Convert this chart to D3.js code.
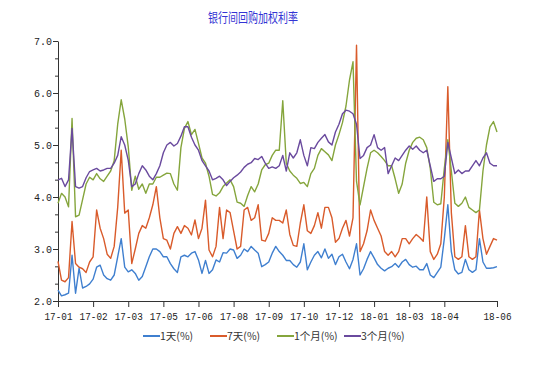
<!DOCTYPE html>
<html><head><meta charset="utf-8">
<script src="https://cdn.jsdelivr.net/npm/d3@7"></script>
<style>body{margin:0;background:#fff}</style>
</head><body>
<svg id="c" width="553" height="379"></svg>
<script>
const title = "银行间回购加权利率";
const seriesNames = ["1天(%)", "7天(%)", "1个月(%)", "3个月(%)"];
const seriesColors = ["#3f7fcf", "#d95b2b", "#85a53c", "#6a4a9e"];
const tickLabels = ["17-01","17-02","17-03","17-05","17-06","17-08","17-09","17-10","17-12","18-01","18-03","18-04","18-06"];
const tickIndex = [0,10,20,30,40,50,60,70,80,90,100,110,125];
const yTicks = [2,3,4,5,6,7];

const day1 = [2.21,2.1,2.12,2.15,2.88,2.15,2.63,2.25,2.28,2.33,2.42,2.65,2.69,2.5,2.43,2.4,2.5,2.85,3.2,2.65,2.56,2.6,2.53,2.4,2.47,2.66,2.85,3.0,3.0,2.95,2.85,2.85,
2.72,2.62,2.55,2.85,2.88,2.85,2.92,2.95,2.79,2.53,2.78,2.53,2.6,2.79,2.75,2.93,2.92,3.0,2.98,2.82,2.88,3.0,2.95,3.05,2.98,2.92,2.66,2.7,2.75,2.92,3.05,
2.95,2.88,2.78,2.78,2.7,2.65,2.75,3.1,2.6,2.75,2.88,2.95,2.83,3.0,2.82,2.9,2.7,2.85,2.9,2.75,2.62,2.8,3.1,2.5,2.62,2.8,2.95,2.83,2.7,2.63,2.58,2.63,
2.66,2.72,2.65,2.75,2.8,2.7,2.65,2.67,2.6,2.6,2.72,2.5,2.45,2.55,2.65,3.2,3.85,2.95,2.6,2.52,2.55,2.8,2.6,2.55,2.6,3.2,2.75,2.63,2.63,2.64,2.66];
const day7 = [2.76,2.4,2.37,2.45,3.53,2.72,2.65,2.62,2.55,2.75,2.85,3.75,3.4,3.2,2.9,2.82,3.05,3.8,4.9,3.69,3.75,2.72,3.0,3.3,3.45,3.4,3.6,3.85,4.2,3.6,3.2,3.17,
3.0,3.3,3.43,3.3,3.45,3.4,3.27,3.56,3.2,3.4,3.94,2.98,2.85,3.05,3.8,3.2,3.75,3.7,3.35,3.0,3.05,3.75,3.8,3.55,3.6,3.85,3.17,3.15,3.3,3.6,3.55,
3.55,3.5,3.75,3.28,3.07,3.05,3.5,3.85,3.35,3.3,3.45,3.7,3.4,3.8,3.8,3.6,3.13,3.2,3.4,3.55,3.25,3.6,6.92,2.95,3.1,3.35,3.75,3.55,3.4,3.25,2.95,2.88,
2.95,2.85,2.95,3.2,3.2,3.1,3.2,3.28,3.22,3.15,4.0,2.95,2.8,2.9,3.1,4.0,6.12,3.7,2.85,2.8,2.85,3.45,2.85,2.8,2.85,3.75,3.2,2.9,3.05,3.2,3.17];
const month1 = [3.88,4.07,4.0,3.81,5.51,3.62,3.65,3.95,4.25,4.38,4.33,4.45,4.35,4.3,4.4,4.5,4.7,5.4,5.87,5.5,4.97,4.13,4.4,4.15,4.25,4.07,4.25,4.25,4.38,4.38,4.42,4.46,
4.45,4.25,4.13,4.95,5.32,5.45,5.2,5.3,5.03,4.75,4.65,4.4,4.05,4.02,4.08,4.2,4.27,4.33,4.2,3.9,3.88,3.82,4.03,4.2,4.1,4.25,4.52,4.62,4.65,4.8,4.9,
4.9,5.85,4.65,4.5,4.42,4.36,4.26,4.28,4.2,4.45,4.55,4.8,4.93,4.87,4.81,4.7,5.0,5.2,5.43,5.75,6.25,6.6,4.3,3.85,4.2,4.55,4.85,4.9,4.85,4.78,4.7,4.6,
4.6,4.35,4.07,4.25,4.65,4.9,5.05,5.13,5.15,5.1,4.95,4.55,3.9,3.85,3.87,4.55,5.1,4.5,3.88,3.82,3.88,4.0,3.8,3.75,3.7,3.75,4.5,5.0,5.35,5.45,5.25];
const month3 = [4.33,4.36,4.2,4.33,5.32,4.2,4.17,4.2,4.37,4.49,4.52,4.55,4.5,4.52,4.55,4.55,4.65,4.8,5.16,5.0,4.71,4.2,4.25,4.45,4.6,4.52,4.4,4.33,4.45,4.6,4.85,5.0,
5.05,4.98,5.03,5.17,5.35,5.35,5.15,5.0,4.9,4.7,4.6,4.5,4.33,4.36,4.4,4.33,4.22,4.3,4.37,4.42,4.48,4.57,4.63,4.66,4.74,4.72,4.78,4.65,4.55,4.58,4.55,
4.6,4.8,4.5,4.85,4.75,4.85,5.1,4.8,4.6,4.95,4.93,5.05,5.13,5.2,5.06,5.0,5.25,5.4,5.6,5.67,5.65,5.6,5.4,4.74,4.8,4.95,5.0,5.2,4.95,4.9,4.95,4.45,
4.6,4.75,4.7,4.8,4.9,4.98,4.92,4.98,4.9,4.85,4.9,4.6,4.3,4.35,4.35,4.4,5.05,4.75,4.45,4.52,4.45,4.5,4.5,4.6,4.7,4.6,4.75,4.85,4.65,4.6,4.6];

const allSeries = [day1, day7, month1, month3];
const n = day1.length;

const svg = d3.select("#c");
svg.append("rect").attr("width",553).attr("height",379).attr("fill","#fff");

const x = d3.scaleLinear().domain([0, n-1]).range([58, 497]);
const y = d3.scaleLinear().domain([2, 7]).range([301, 41]);

svg.append("text").attr("x", 253).attr("y", 22).attr("text-anchor","middle")
  .attr("font-family","Noto Sans CJK SC").attr("font-size",13).attr("fill","#3434d4")
  .attr("textLength",90).attr("lengthAdjust","spacingAndGlyphs").text(title);

// minor y ticks
const minor = d3.range(0, 16).map(k => 2 + k/3).filter(v => Math.abs(v - Math.round(v)) > 0.01);
svg.append("g").attr("transform","translate(58,0)")
  .call(d3.axisLeft(y).tickValues(minor).tickSize(3).tickFormat(""))
  .call(g => g.select(".domain").remove())
  .selectAll("line").attr("stroke","#333");

const yAxis = svg.append("g").attr("transform","translate(58,0)")
  .call(d3.axisLeft(y).tickValues(yTicks).tickFormat(d3.format(".1f")).tickSize(5).tickSizeOuter(0).tickPadding(1));
yAxis.selectAll("text").attr("font-family","Liberation Mono").attr("font-size",11.5).attr("fill","#222")
  .attr("textLength",18).attr("lengthAdjust","spacingAndGlyphs");
yAxis.selectAll("line,path").attr("stroke","#333");

const xAxis = svg.append("g").attr("transform","translate(0,301)")
  .call(d3.axisBottom(x).tickValues(tickIndex).tickFormat((d,i) => tickLabels[i]).tickSize(6).tickSizeOuter(0).tickPadding(5));
xAxis.selectAll("text").attr("font-family","Liberation Mono").attr("font-size",11.5).attr("fill","#222")
  .attr("textLength",28).attr("lengthAdjust","spacingAndGlyphs");
xAxis.selectAll("line,path").attr("stroke","#333");

const line = d3.line().x((d,i) => x(i)).y(d => y(d));
allSeries.forEach((s, k) => {
  svg.append("path").datum(s).attr("d", line).attr("fill","none")
    .attr("stroke", seriesColors[k]).attr("stroke-width",1.4).attr("stroke-linejoin","round");
});

const legendX = [143, 210, 277, 344];
const leg = svg.append("g");
seriesNames.forEach((name, k) => {
  leg.append("line").attr("x1", legendX[k]).attr("x2", legendX[k] + 17).attr("y1", 336).attr("y2", 336)
    .attr("stroke", seriesColors[k]).attr("stroke-width", 2);
  leg.append("text").attr("x", legendX[k] + 17).attr("y", 340)
    .attr("font-family","Noto Sans CJK SC").attr("font-size",10.5).attr("fill","#333").text(name);
});
</script>
</body></html>
